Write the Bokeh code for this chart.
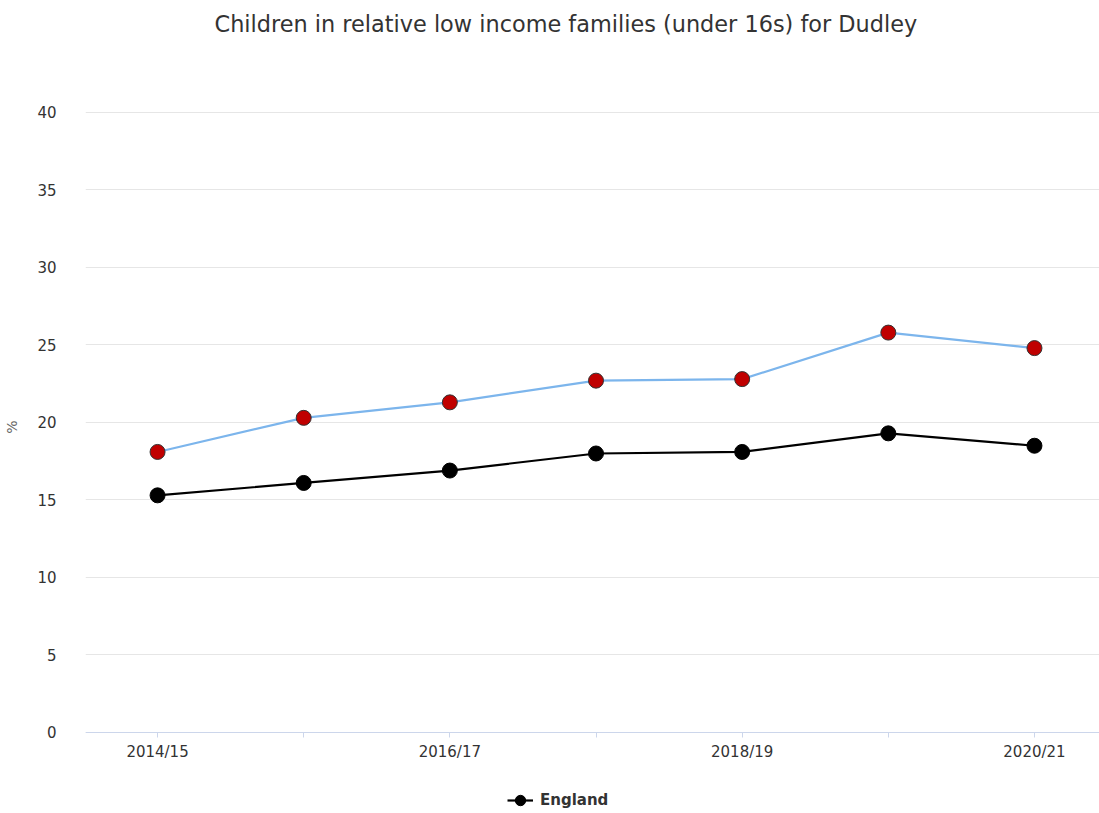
from bokeh.plotting import figure
from bokeh.models import FixedTicker, Legend, LegendItem, Range1d
from bokeh.embed import file_html
from bokeh.resources import INLINE

title_text = "Children in relative low income families (under 16s) for Dudley"
years = ["2014/15", "2015/16", "2016/17", "2017/18", "2018/19", "2019/20", "2020/21"]
dudley = [18.1, 20.3, 21.3, 22.7, 22.8, 25.8, 24.8]
england = [15.3, 16.1, 16.9, 18.0, 18.1, 19.3, 18.5]
y_ticks = [0, 5, 10, 15, 20, 25, 30, 35, 40]

xs = list(range(len(years)))
FONT = "DejaVu Sans"

# frame spans from below the title to the bottom of the page; value 0 sits at the
# x-axis line, the space under it holds the legend
p = figure(width=1099, height=813, output_backend="svg", toolbar_location=None,
           x_range=Range1d(-0.493, 6.445), y_range=Range1d(-5.226, 44.645),
           min_border_left=85, min_border_right=0, min_border_top=40, min_border_bottom=0)
p.outline_line_color = None
p.background_fill_color = "white"
p.border_fill_color = "white"

p.title.text = title_text
p.title.align = "left"
p.title.offset = 129
p.title.vertical_align = "top"
p.title.standoff = 4
p.title.text_font = FONT
p.title.text_font_size = "22.4px"
p.title.text_font_style = "normal"
p.title.text_color = "#333333"

# Dudley
p.line(xs, dudley, line_color="#7cb5ec", line_width=2.2)
p.scatter(xs, dudley, size=15, fill_color="#c00000", line_color="#333333", line_width=1)

# England
eng_line = p.line(xs, england, line_color="#000000", line_width=2.2)
eng_pts = p.scatter(xs, england, size=15, fill_color="#000000", line_color="#000000", line_width=1)

# x axis, pinned at value 0
xa = p.xaxis[0]
xa.fixed_location = 0
xa.ticker = FixedTicker(ticks=xs)
xa.major_label_overrides = {i: (years[i] if i % 2 == 0 else "") for i in xs}
xa.axis_line_color = "#ccd6eb"
xa.major_tick_line_color = "#ccd6eb"
xa.major_tick_in = 0
xa.major_tick_out = 5
xa.minor_tick_line_color = None
xa.major_label_text_font = FONT
xa.major_label_text_font_size = "15px"
xa.major_label_text_color = "#333333"
xa.major_label_standoff = 6

# y axis
ya = p.yaxis[0]
ya.ticker = FixedTicker(ticks=y_ticks)
ya.axis_line_color = None
ya.major_tick_line_color = None
ya.minor_tick_line_color = None
ya.major_label_text_font = FONT
ya.major_label_text_font_size = "15px"
ya.major_label_text_color = "#333333"
ya.major_label_standoff = 23
ya.axis_label = "%"
ya.axis_label_text_font = FONT
ya.axis_label_text_font_size = "14px"
ya.axis_label_text_font_style = "normal"
ya.axis_label_text_color = "#666666"
ya.axis_label_standoff = 14

p.xgrid.grid_line_color = None
p.ygrid.grid_line_color = "#e6e6e6"
p.ygrid.ticker = FixedTicker(ticks=y_ticks)

legend = Legend(items=[LegendItem(label="England", renderers=[eng_line, eng_pts])],
                location=(422, 0), orientation="horizontal",
                label_text_font=FONT, label_text_font_size="15px",
                label_text_font_style="bold", label_text_color="#333333",
                border_line_color=None, background_fill_alpha=0,
                glyph_width=26, glyph_height=26, label_standoff=7,
                margin=0, padding=0, spacing=0)
p.add_layout(legend)

open("out.html", "w").write(file_html(p, INLINE))
